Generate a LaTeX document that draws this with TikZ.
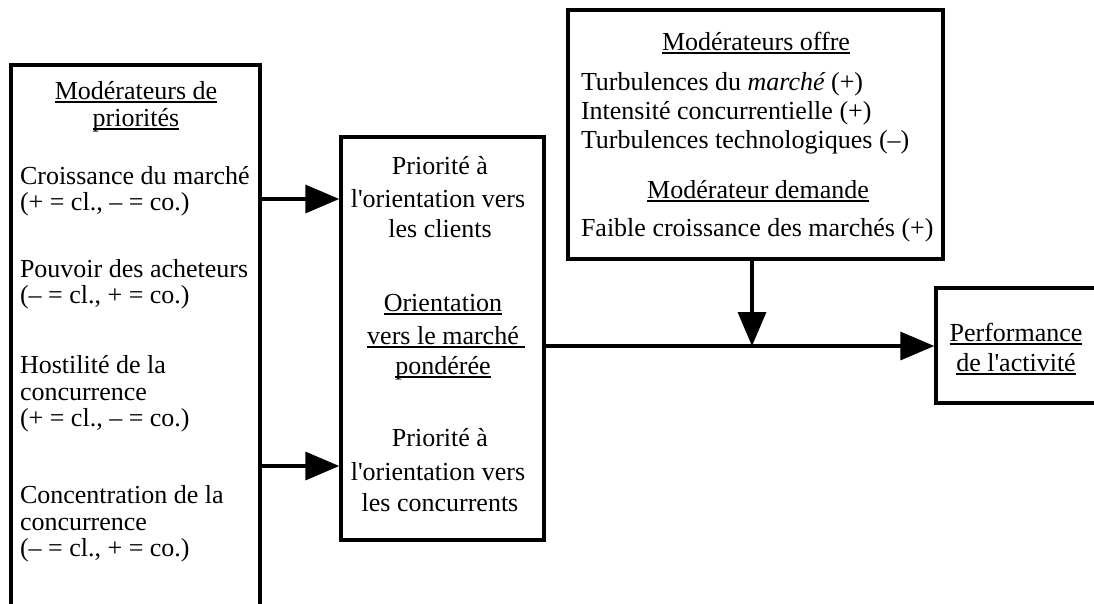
\documentclass[tikz,border=0pt]{standalone}
\usepackage{fontspec}
\setmainfont{Liberation Serif}
\usetikzlibrary{arrows.meta}
\newcommand\myul[1]{\setbox0\hbox{#1}\rlap{\rule[-3.5pt]{\wd0}{1.4pt}}#1}
\newcommand\apos{\textquotesingle}
\begin{document}
\begin{tikzpicture}[x=1pt,y=-1pt,
  txt/.style={font=\fontsize{26}{28}\selectfont, inner sep=0pt, outer sep=0pt},
  lt/.style={txt, anchor=base west},
  ct/.style={txt, anchor=base},
  frame/.style={draw, line width=3.4pt, inner sep=0pt},
  arr/.style={line width=3.4pt, -{Triangle[length=34pt,width=28pt]}},
]
\useasboundingbox (0,0) rectangle (1094,603);
\clip (0,0) rectangle (1094,603);

% boxes
\node[frame, minimum width=249pt, minimum height=560pt] (modp) at (135.5,345) {};
\node[frame, minimum width=203pt, minimum height=403pt] (orient) at (442.5,338.5) {};
\node[frame, minimum width=375pt, minimum height=249pt] (modo) at (755.5,134.5) {};
\node[frame, minimum width=180pt, minimum height=115pt] (perf) at (1026,345.5) {};

% left box texts
\node[ct] (p1) at (136,99) {\myul{Modérateurs de}};
\node[ct] (p2) at (136,126) {\myul{priorités}};
\node[lt] (p3) at (20,184) {Croissance du marché};
\node[lt] (p4) at (20,210) {(+ = cl., – = co.)};
\node[lt] (p5) at (20,277) {Pouvoir des acheteurs};
\node[lt] (p6) at (20,303) {(– = cl., + = co.)};
\node[lt] (p7) at (20,373) {Hostilité de la};
\node[lt] (p8) at (20,400) {concurrence};
\node[lt] (p9) at (20,426) {(+ = cl., – = co.)};
\node[lt] (p10) at (20,503) {Concentration de la};
\node[lt] (p11) at (20,530) {concurrence};
\node[lt] (p12) at (20,556) {(– = cl., + = co.)};

% middle box texts
\node[ct] (o1) at (440,174) {Priorité à};
\node[ct] (o2) at (438,207) {l\apos orientation vers};
\node[ct] (o3) at (440,237) {les clients};
\node[ct] (o4) at (443,311) {\myul{Orientation}};
\node[ct] (o5) at (443,344) {\myul{vers le marché }};
\node[ct] (o6) at (443,374) {\myul{pondérée}};
\node[ct] (o7) at (440,446) {Priorité à};
\node[ct] (o8) at (438,480) {l\apos orientation vers};
\node[ct] (o9) at (440,511) {les concurrents};

% top box texts
\node[ct] (m1) at (756,50) {\myul{Modérateurs offre}};
\node[lt] (m2) at (581,90) {Turbulences du {\itshape marché} (+)};
\node[lt] (m3) at (581,119) {Intensité concurrentielle (+)};
\node[lt] (m4) at (581,148) {Turbulences technologiques (–)};
\node[ct] (m5) at (758,198) {\myul{Modérateur demande}};
\node[lt] (m6) at (581,236) {Faible croissance des marchés (+)};

% performance texts
\node[ct] (f1) at (1016,341) {\myul{Performance}};
\node[ct] (f2) at (1016,371) {\myul{de l\apos activité}};

% connectors
\coordinate (y1) at (0,199);
\coordinate (y2) at (0,466);
\coordinate (j) at (752,346);
\draw[arr] (modp.east |- y1) -- (orient.west |- y1);
\draw[arr] (modp.east |- y2) -- (orient.west |- y2);
\draw[arr] (orient.east |- j) -- (perf.west |- j);
\draw[arr] (modo.south -| j) -- (j);
\end{tikzpicture}
\end{document}
